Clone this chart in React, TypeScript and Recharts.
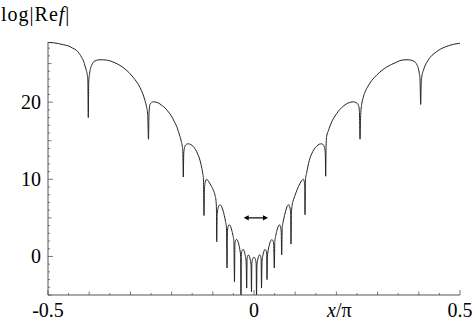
import { LineChart, Line, XAxis, YAxis, ReferenceLine } from "recharts";

// samples of log|Re f| against x/pi, one arc per line
const leftSide: [number, number][] = [
  [-0.5, 27.75], [-0.4875, 27.7], [-0.475, 27.6], [-0.463, 27.45], [-0.451, 27.3], [-0.44, 27.0], [-0.4303, 26.7], [-0.424, 26.3], [-0.4182, 25.8], [-0.4135, 25.3], [-0.4102, 24.7], [-0.407, 24.1], [-0.4046, 23.5], [-0.4032, 22.6], [-0.4022, 18.0],
  [-0.4012, 22.6], [-0.3985, 23.9], [-0.3939, 24.8], [-0.3859, 25.35], [-0.3738, 25.5], [-0.3575, 25.45], [-0.3374, 25.1], [-0.3131, 24.3], [-0.293, 23.2], [-0.2767, 21.9], [-0.27, 21.1], [-0.2646, 20.2], [-0.2605, 19.3], [-0.258, 18.4], [-0.2561, 15.2],
  [-0.2548, 18.6], [-0.2524, 19.7], [-0.2485, 19.95], [-0.2444, 20.05], [-0.2323, 19.9], [-0.224, 19.6], [-0.216, 19.25], [-0.208, 18.75], [-0.1998, 18.15], [-0.1935, 17.5], [-0.1876, 16.85], [-0.1835, 16.2], [-0.1796, 15.55], [-0.1765, 14.9], [-0.174, 14.25], [-0.1726, 13.4], [-0.1716, 10.3],
  [-0.1705, 13.4], [-0.1675, 14.3], [-0.1635, 14.55], [-0.1595, 14.6], [-0.1535, 14.5], [-0.1473, 14.25], [-0.142, 13.85], [-0.1376, 13.4], [-0.133, 12.8], [-0.1294, 12.1], [-0.1265, 11.4], [-0.1245, 10.8], [-0.1226, 9.9], [-0.1214, 5.3],
  [-0.1204, 8.7], [-0.1185, 9.6], [-0.1148, 10.0], [-0.11, 9.7], [-0.105, 9.25], [-0.0988, 8.6], [-0.0945, 7.9], [-0.0922, 7.2], [-0.0911, 6.0], [-0.0905, 1.9],
];

const center: [number, number][] = [
  [-0.0895, 5.4], [-0.087, 6.3], [-0.0845, 6.6], [-0.0825, 6.7], [-0.079, 6.5], [-0.0755, 6.0], [-0.072, 5.3], [-0.069, 4.5], [-0.0668, 3.7], [-0.0655, -1.5],
  [-0.0645, 3.3], [-0.0625, 3.95], [-0.06, 4.1], [-0.057, 3.9], [-0.054, 3.4], [-0.051, 2.7], [-0.0488, 1.9], [-0.0473, -3.3],
  [-0.0464, 1.6], [-0.0445, 2.1], [-0.042, 2.2], [-0.039, 1.95], [-0.0362, 1.4], [-0.0338, 0.7], [-0.0324, 0.0], [-0.0316, -5.3],
  [-0.0307, 0.3], [-0.0285, 0.8], [-0.026, 0.9], [-0.0235, 0.65], [-0.0212, 0.1], [-0.0192, -0.6], [-0.0177, -4.1],
  [-0.0168, -0.3], [-0.015, 0.1], [-0.0133, 0.2], [-0.0112, 0.0], [-0.009, -0.45], [-0.0072, -1.1], [-0.0061, -4.6],
  [-0.0052, -0.9], [-0.003, -0.3], [0.0, -0.1], [0.003, -0.3], [0.0052, -0.9], [0.0061, -5.3],
  [0.0072, -1.1], [0.009, -0.45], [0.0112, 0.0], [0.0135, 0.2], [0.0155, 0.1], [0.0172, -0.3], [0.0182, -4.1],
  [0.0195, -0.6], [0.0215, 0.1], [0.024, 0.65], [0.0265, 0.9], [0.029, 0.8], [0.0307, 0.3], [0.0316, -3.0],
  [0.0326, 0.0], [0.0342, 0.7], [0.0368, 1.4], [0.0398, 1.95], [0.043, 2.15], [0.0455, 2.1], [0.0478, 1.6], [0.0493, -1.5],
  [0.0505, 1.9], [0.0528, 2.7], [0.0558, 3.4], [0.0588, 3.9], [0.0614, 4.1], [0.064, 3.9], [0.066, 3.3], [0.0672, 0.2],
  [0.0685, 3.7], [0.0708, 4.5], [0.074, 5.3], [0.0775, 6.0], [0.0805, 6.5], [0.0833, 6.7], [0.0858, 6.55], [0.088, 6.1], [0.089, 5.4], [0.0898, 1.6],
];

const rightSide: [number, number][] = [
  [0.0908, 5.6], [0.0925, 6.6], [0.095, 7.2], [0.0995, 7.9], [0.105, 8.7], [0.111, 9.4], [0.116, 9.85], [0.1197, 10.0], [0.122, 9.7], [0.1232, 8.8], [0.1238, 5.4],
  [0.1248, 9.9], [0.1279, 10.85], [0.1305, 11.6], [0.134, 12.4], [0.14, 13.3], [0.146, 13.9], [0.1522, 14.3], [0.1585, 14.55], [0.1643, 14.6], [0.1685, 14.45], [0.1712, 14.1], [0.173, 13.3], [0.174, 10.4],
  [0.175, 14.3], [0.1765, 15.6], [0.1805, 16.3], [0.1845, 16.9], [0.19, 17.6], [0.1966, 18.2], [0.2045, 18.8], [0.2129, 19.3], [0.221, 19.65], [0.2289, 19.9], [0.235, 20.0], [0.241, 20.05], [0.2475, 19.95], [0.2532, 19.65], [0.2558, 18.9], [0.2573, 15.2],
  [0.259, 18.4], [0.2614, 19.7], [0.265, 20.6], [0.2694, 21.3], [0.277, 22.1], [0.2857, 22.8], [0.2975, 23.5], [0.31, 24.1], [0.322, 24.55], [0.3342, 24.9], [0.3465, 25.2], [0.3585, 25.45], [0.3745, 25.5], [0.384, 25.4], [0.3908, 25.2], [0.396, 24.8], [0.3988, 24.4], [0.401, 23.8], [0.4029, 23.0], [0.4046, 19.7],
  [0.4058, 22.6], [0.407, 23.2], [0.411, 24.1], [0.415, 24.7], [0.421, 25.3], [0.4272, 25.8], [0.437, 26.3], [0.4473, 26.7], [0.459, 27.05], [0.4716, 27.3], [0.484, 27.5], [0.4959, 27.6], [0.5, 27.65],
];

const xTicks = [-0.5, -0.45, -0.4, -0.35, -0.3, -0.25, -0.2, -0.15, -0.1, -0.05, 0, 0.05, 0.1, 0.15, 0.2, 0.25, 0.3, 0.35, 0.4, 0.45, 0.5];
const xLabels = [-0.5, 0, 0.5];
const yTicks = [-5, -4, -3, -2, -1, 0, 1, 2, 3, 4, 5, 6, 7, 8, 9, 10, 11, 12, 13, 14, 15, 16, 17, 18, 19, 20, 21, 22, 23, 24, 25, 26, 27];
const yLabels = [0, 10, 20];

// the double arrow drawn near the bottom of the curve
const arrowFrom = { x: -0.025, y: 5.0 };
const arrowTo = { x: 0.034, y: 5.0 };

const data = [...leftSide, ...center, ...rightSide].map(([x, v]) => ({ x, v }));

const FONT = '"Liberation Serif", "Times New Roman", serif';
const FRAME = "#555";
const textStyle = { fontFamily: FONT, fontSize: 20 };

function xLen(v: number) {
  if (xLabels.includes(v)) return 5;
  return Math.abs(Math.round(v * 10) - v * 10) < 1e-6 ? 3.5 : 2;
}

function yLen(v: number) {
  if (v % 10 === 0) return 5;
  return v % 5 === 0 ? 3.5 : 2;
}

function XTick({ x, y, payload, top }: any) {
  const v = payload.value;
  const len = xLen(v);
  return (
    <g>
      <line x1={x} x2={x} y1={y} y2={top ? y + len : y - len} stroke={FRAME} strokeWidth={0.8} />
      {!top && xLabels.includes(v) && (
        <text x={x} y={y + 22} textAnchor="middle" style={textStyle} fill="#000">
          {v === 0 ? "0" : String(v)}
        </text>
      )}
    </g>
  );
}

function YTick({ x, y, payload, right }: any) {
  const v = payload.value;
  const len = yLen(v);
  return (
    <g>
      <line x1={x} x2={right ? x - len : x + len} y1={y} y2={y} stroke={FRAME} strokeWidth={0.8} />
      {!right && yLabels.includes(v) && (
        <text x={x - 7} y={y + 7} textAnchor="end" style={textStyle} fill="#000">
          {v}
        </text>
      )}
    </g>
  );
}

function DoubleArrow({ x1, y1, x2 }: any) {
  const h = 5;
  const w = 2.6;
  return (
    <g>
      <line x1={x1 + 3} x2={x2 - 3} y1={y1} y2={y1} stroke="#000" strokeWidth={1.2} />
      <polygon points={`${x1},${y1} ${x1 + h},${y1 - w} ${x1 + h},${y1 + w}`} fill="#000" />
      <polygon points={`${x2},${y1} ${x2 - h},${y1 - w} ${x2 - h},${y1 + w}`} fill="#000" />
    </g>
  );
}

export default function App() {
  return (
    <div style={{ position: "absolute", left: 0, top: 0, width: 475, height: 329, background: "#fff" }}>
      <LineChart width={475} height={329} data={data} margin={{ top: 42, right: 15, bottom: 0, left: 0 }}>
        <XAxis
          dataKey="x"
          type="number"
          domain={[-0.5, 0.5]}
          ticks={xTicks}
          allowDataOverflow
          height={34}
          tickSize={0}
          tickMargin={0}
          tickLine={false}
          axisLine={{ stroke: FRAME }}
          tick={(p: any) => <XTick {...p} />}
          interval={0}
        />
        <XAxis
          xAxisId="top"
          orientation="top"
          dataKey="x"
          type="number"
          domain={[-0.5, 0.5]}
          ticks={xTicks}
          allowDataOverflow
          height={0}
          tickSize={0}
          tickMargin={0}
          tickLine={false}
          axisLine={{ stroke: FRAME }}
          tick={(p: any) => <XTick {...p} top />}
          interval={0}
        />
        <YAxis
          type="number"
          domain={[-5, 27.8]}
          ticks={yTicks}
          allowDataOverflow
          width={48}
          tickSize={0}
          tickMargin={0}
          tickLine={false}
          axisLine={{ stroke: FRAME }}
          tick={(p: any) => <YTick {...p} />}
          interval={0}
        />
        <YAxis
          yAxisId="right"
          orientation="right"
          type="number"
          domain={[-5, 27.8]}
          ticks={yTicks}
          allowDataOverflow
          width={0}
          tickSize={0}
          tickMargin={0}
          tickLine={false}
          axisLine={{ stroke: FRAME }}
          tick={(p: any) => <YTick {...p} right />}
          interval={0}
        />
        <Line
          dataKey="v"
          type="monotone"
          stroke="#222"
          strokeWidth={1}
          dot={false}
          activeDot={false}
          isAnimationActive={false}
        />
        <Line
          xAxisId="top"
          yAxisId="right"
          dataKey="v"
          stroke="none"
          dot={false}
          activeDot={false}
          isAnimationActive={false}
        />
        <ReferenceLine segment={[arrowFrom, arrowTo]} shape={(p: any) => <DoubleArrow {...p} />} />
      </LineChart>
      <svg width={475} height={329} style={{ position: "absolute", left: 0, top: 0, pointerEvents: "none" }}>
        <text x={1} y={21} style={{ ...textStyle, letterSpacing: 1 }} fill="#000">
          log|Re<tspan fontStyle="italic">f</tspan>|
        </text>
        <text x={327} y={317} style={textStyle} fill="#000">
          <tspan fontStyle="italic">x</tspan>/π
        </text>
      </svg>
    </div>
  );
}
